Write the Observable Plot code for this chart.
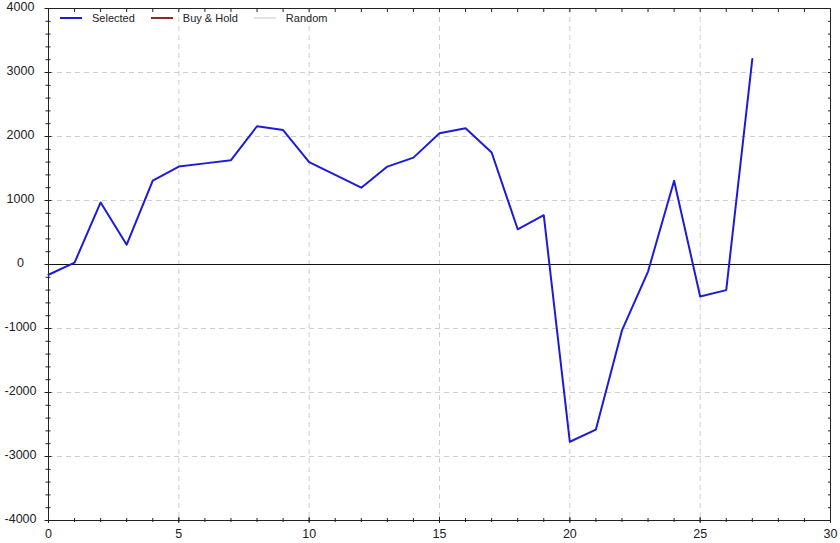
<!DOCTYPE html>
<html><head><meta charset="utf-8">
<script src="https://cdn.jsdelivr.net/npm/d3@7"></script>
<script src="https://cdn.jsdelivr.net/npm/@observablehq/plot@0.6"></script>
<style>
body{margin:0;background:#fff;font-family:"Liberation Sans",Arial,sans-serif;}
#wrap{position:relative;width:840px;height:543px;}
#legend{position:absolute;left:60px;top:12px;display:flex;align-items:center;font-size:11px;color:#222;}
.item{display:flex;align-items:center;margin-right:16px;}
.swatch{width:22px;height:2px;margin-right:10px;}
</style></head><body>
<div id="wrap"><div id="chart"></div><div id="legend"></div></div>
<script>
const periods = [0,1,2,3,4,5,6,7,8,9,10,11,12,13,14,15,16,17,18,19,20,21,22,23,24,25,26,27];
const selected = [-160,30,970,310,1310,1530,1580,1630,2160,2100,1600,1400,1200,1530,1670,2050,2130,1750,550,770,-2770,-2580,-1030,-110,1310,-500,-400,3210];
const seriesNames = ["Selected","Buy & Hold","Random"];
const seriesColors = ["#1c1cd8","#8b2a2a","#e2e2e2"];
const xTicks = [0,5,10,15,20,25,30];
const yTicks = [-4000,-3000,-2000,-1000,0,1000,2000,3000,4000];
const xMinor = d3.range(0,31,1);
const yMinor = d3.range(-4000,4001,200);

const data = periods.map((p,i)=>({p, v: selected[i]}));
const axisColor = "#222";
const gridColor = "#cfcfcf";
const fmt = d => String(d);

const chart = Plot.plot({
  width: 840, height: 543,
  marginLeft: 48, marginRight: 10, marginTop: 8, marginBottom: 23,
  style: {fontSize: "12.5px", fontFamily: "Liberation Sans, Arial, sans-serif", color: "#222", background: "#fff"},
  x: {domain: [0,30], label: null},
  y: {domain: [-4000,4000], label: null},
  marks: [
    Plot.gridX(xTicks.slice(1,-1), {stroke: gridColor, strokeOpacity: 1, strokeDasharray: "5,4"}),
    Plot.gridY(yTicks.slice(1,-1), {stroke: gridColor, strokeOpacity: 1, strokeDasharray: "5,4"}),
    Plot.ruleY([0], {stroke: "#111", strokeOpacity: 1}),
    Plot.frame({stroke: axisColor, strokeOpacity: 1}),
    Plot.line(data, {x: "p", y: "v", stroke: seriesColors[0], strokeWidth: 2}),
    // bottom axis
    Plot.axisX(xMinor, {anchor: "bottom", tickSize: 4, dy: -2, text: null, stroke: axisColor}),
    Plot.axisX(xTicks, {anchor: "bottom", tickSize: 6, dy: -3, text: null, stroke: axisColor}),
    Plot.axisX(xTicks, {anchor: "bottom", tickSize: 0, tickPadding: 9, tickFormat: fmt, fill: "#222"}),
    // top axis
    Plot.axisX(xMinor, {anchor: "top", tickSize: 3, dy: 3, text: null, stroke: axisColor}),
    // left axis
    Plot.axisY(yMinor, {anchor: "left", tickSize: 5, dx: 2.5, text: null, stroke: axisColor}),
    Plot.axisY(yTicks, {anchor: "left", tickSize: 7, dx: 3.5, text: null, stroke: axisColor}),
    Plot.axisY(yTicks, {anchor: "left", tickSize: 0, tickPadding: 28, dy: -2, textAnchor: "middle", tickFormat: fmt, fill: "#222"}),
    // right axis
    Plot.axisY(yMinor, {anchor: "right", tickSize: 3, dx: -3, text: null, stroke: axisColor})
  ]
});
document.getElementById("chart").append(chart);

const legend = document.getElementById("legend");
seriesNames.forEach((name,i)=>{
  const it = document.createElement("div");
  it.className = "item";
  const sw = document.createElement("div");
  sw.className = "swatch";
  sw.style.background = seriesColors[i];
  const t = document.createElement("span");
  t.textContent = name;
  it.append(sw, t);
  legend.append(it);
});
</script>
</body></html>
